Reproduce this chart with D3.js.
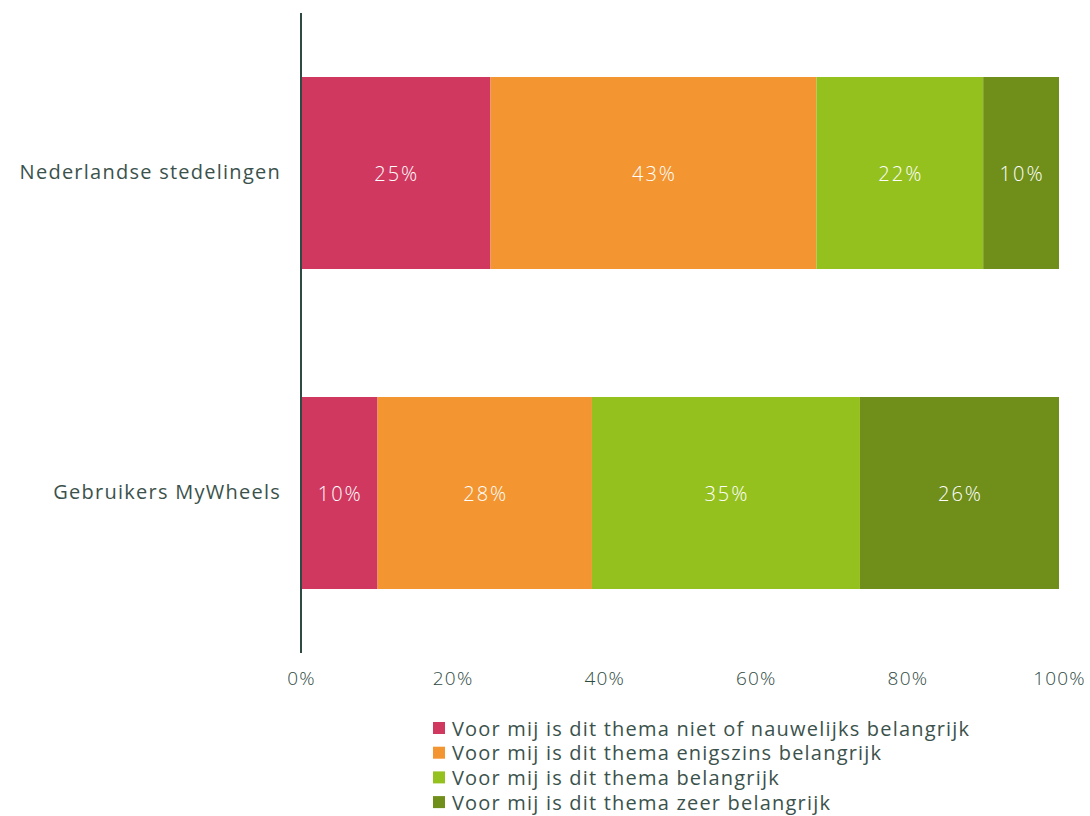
<!DOCTYPE html>
<html>
<head>
<meta charset="utf-8">
<script src="https://cdn.jsdelivr.net/npm/d3@7"></script>
<style>
  html, body { margin: 0; padding: 0; background: #ffffff; }
  svg { display: block; font-family: "Open Sans", "Noto Sans", sans-serif; }
</style>
</head>
<body>
<svg id="chart" width="1090" height="816"></svg>
<script>
// Survey groups, answer categories and shares (percent)
const groups = ["Nederlandse stedelingen", "Gebruikers MyWheels"];
const answers = [
  "Voor mij is dit thema niet of nauwelijks belangrijk",
  "Voor mij is dit thema enigszins belangrijk",
  "Voor mij is dit thema belangrijk",
  "Voor mij is dit thema zeer belangrijk"
];
const stedelingen = [25, 43, 22, 10];
const gebruikers = [10, 28, 35, 26];
const tickValues = [0, 0.2, 0.4, 0.6, 0.8, 1];
const colors = ["#d13860", "#f39530", "#95c11f", "#6f8f1a"];

const seriesByGroup = [stedelingen, gebruikers];

const svg = d3.select("#chart");
const textColor = "#3b524c";
const font = "'Open Sans', 'Noto Sans', sans-serif";

const x = d3.scaleLinear().domain([0, 1]).range([301, 1059]);
const y = d3.scaleBand().domain(groups).range([13, 653]).paddingInner(0.4).paddingOuter(0.2);

// Rows normalised to 100% and stacked
const rows = groups.map((g, i) => {
  const vals = seriesByGroup[i];
  const total = d3.sum(vals);
  const row = { group: g };
  answers.forEach((a, j) => { row[a] = vals[j] / total; row["label_" + j] = vals[j]; });
  return row;
});
const stack = d3.stack().keys(answers);
const layers = stack(rows);

const layerG = svg.selectAll("g.layer").data(layers).join("g")
  .attr("class", "layer")
  .attr("fill", (d, i) => colors[i]);

layerG.selectAll("rect").data(d => d).join("rect")
  .attr("x", d => x(d[0]))
  .attr("y", d => y(d.data.group))
  .attr("width", d => x(d[1]) - x(d[0]))
  .attr("height", y.bandwidth());

layers.forEach((layer, j) => {
  svg.append("g").selectAll("text").data(layer).join("text")
    .attr("x", d => (x(d[0]) + x(d[1])) / 2 + 1)
    .attr("y", d => y(d.data.group) + y.bandwidth() / 2)
    .attr("text-anchor", "middle")
    .attr("dominant-baseline", "central")
    .attr("fill", "#ffffff")
    .attr("font-size", 20)
    .attr("font-weight", 300)
    .attr("letter-spacing", 2)
    .text(d => d.data["label_" + j] + "%");
});

// X axis tick labels (no axis line)
const xAxis = svg.append("g")
  .attr("transform", "translate(0,671)")
  .call(d3.axisBottom(x).tickValues(tickValues).tickFormat(d3.format(".0%")).tickSize(0).tickPadding(0));
xAxis.select(".domain").remove();
xAxis.selectAll("text")
  .attr("font-family", font)
  .attr("font-size", 19)
  .attr("font-weight", 300)
  .attr("letter-spacing", 1.2)
  .attr("fill", "#2f4a43");

// Y axis: vertical line and category labels
const yAxis = svg.append("g")
  .attr("transform", "translate(301,0)")
  .call(d3.axisLeft(y).tickSize(0).tickPadding(20));
yAxis.select(".domain").remove();
yAxis.selectAll("text")
  .attr("font-family", font)
  .attr("font-size", 20)
  .attr("letter-spacing", 1.25)
  .attr("fill", textColor);
svg.append("line")
  .attr("x1", 301).attr("x2", 301)
  .attr("y1", 13).attr("y2", 653)
  .attr("stroke", "#2f4a43")
  .attr("stroke-width", 2);

// Legend
const legend = svg.append("g").attr("transform", "translate(433,728)");
const item = legend.selectAll("g").data(answers).join("g")
  .attr("transform", (d, i) => `translate(0,${i * 24.7})`);
item.append("rect")
  .attr("x", 0).attr("y", -6).attr("width", 12).attr("height", 12)
  .attr("fill", (d, i) => colors[i]);
item.append("text")
  .attr("x", 19).attr("y", 0)
  .attr("dominant-baseline", "central")
  .attr("font-size", 20)
  .attr("letter-spacing", 1.2)
  .attr("fill", textColor)
  .text(d => d);
</script>
</body>
</html>
